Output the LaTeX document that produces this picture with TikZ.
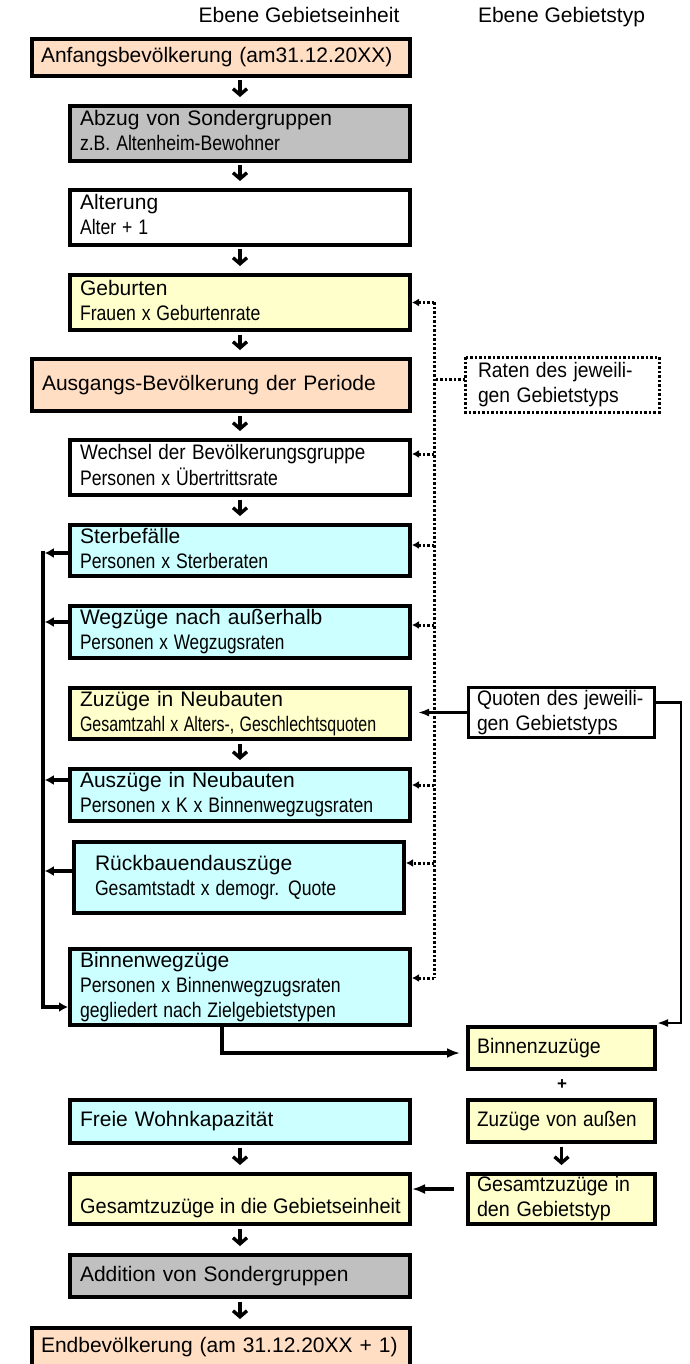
\documentclass[tikz,border=0pt]{standalone}
\usepackage{fontspec}
\setmainfont{Liberation Sans}
\usepackage{graphicx}
\usetikzlibrary{arrows.meta}
\definecolor{peach}{RGB}{255,222,196}
\definecolor{lyellow}{RGB}{255,255,204}
\definecolor{lcyan}{RGB}{204,255,255}
\definecolor{lgray}{RGB}{192,192,192}
\newcommand{\nar}[2]{\scalebox{#1}[1]{#2}}
\newcommand{\subl}[1]{\scalebox{0.84}[1]{#1}}
\begin{document}
\begin{tikzpicture}[x=1pt,y=-1pt,
  every node/.style={font=\fontsize{21}{25}\selectfont},
  box/.style={draw, line width=4pt, rectangle, anchor=north west, align=left,
    inner ysep=0pt, inner xsep=10pt, text width=320pt, minimum width=340pt,
    execute at begin node=\strut, execute at end node=\strut},
  widebox/.style={box, inner xsep=9pt, text width=360pt, minimum width=378pt},
  rbox/.style={box, inner xsep=9pt, text width=169pt, minimum width=187pt},
  varrow/.style={line width=3.4pt, -{Straight Barb[length=6pt,width=14pt]}, shorten <=2.5pt, shorten >=7pt},
  larrow/.style={line width=3.5pt, -{Latex[length=9pt,width=10pt]}},
  thkarrow/.style={line width=3.5pt, -{Latex[length=13pt,width=10pt]}},
  medarrow/.style={line width=2.5pt, -{Latex[length=11pt,width=8pt]}},
  dotline/.style={line width=3pt, dash pattern=on 2.5pt off 2pt},
  dotarrow/.style={dotline, -{Latex[length=7pt,width=8pt]}}
]
\useasboundingbox (0,0) rectangle (690,1364);

% headers
\node[anchor=base] (h1) at (299,23) {Ebene Gebietseinheit};
\node[anchor=base] (h2) at (561.5,23) {Ebene Gebietstyp};

% main column
\node[widebox, fill=peach, minimum height=37pt] (anf) at (30,37) {Anfangsbevölkerung (am31.12.20XX)};
\node[box, fill=lgray, minimum height=55pt] (abz) at (68,104) {Abzug von Sondergruppen\\\subl{z.B. Altenheim-Bewohner}};
\node[box, fill=white, minimum height=55pt] (alt) at (68,188) {Alterung\\\subl{Alter + 1}};
\node[box, fill=lyellow, minimum height=55pt] (geb) at (68,273) {Geburten\\\subl{Frauen x Geburtenrate}};
\node[widebox, inner xsep=10pt, text width=358pt, fill=peach, minimum height=52pt] (aus) at (30,357) {Ausgangs-Bevölkerung der Periode};
\node[box, fill=white, minimum height=55pt] (wech) at (68,438) {\nar{0.90}{Wechsel der Bevölkerungsgruppe}\\\subl{Personen x Übertrittsrate}};
\node[box, fill=lcyan, minimum height=51pt] (ster) at (68,523) {Sterbefälle\\\subl{Personen x Sterberaten}};
\node[box, fill=lcyan, minimum height=52pt] (weg) at (68,604) {Wegzüge nach außerhalb\\\nar{0.82}{Personen x Wegzugsraten}};
\node[box, fill=lyellow, minimum height=51pt] (zuz) at (68,686) {Zuzüge in Neubauten\\\nar{0.76}{Gesamtzahl x Alters-, Geschlechtsquoten}};
\node[box, fill=lcyan, minimum height=52pt] (ausz) at (68,767) {Auszüge in Neubauten\\\subl{Personen x K x Binnenwegzugsraten}};
\node[box, fill=lcyan, minimum height=71pt, inner xsep=21pt, text width=288pt, minimum width=330pt] (rueck) at (72,840) {Rückbauendauszüge\\\subl{Gesamtstadt x demogr. Quote}};
\node[box, fill=lcyan, minimum height=76pt] (binw) at (68,947) {Binnenwegzüge\\\subl{Personen x Binnenwegzugsraten}\\\subl{gegliedert nach Zielgebietstypen}};
\node[box, fill=lcyan, minimum height=43pt] (frei) at (68,1098) {Freie Wohnkapazität};
\node[box, fill=lyellow, minimum height=50pt, execute at begin node={}, execute at end node={}] (gesdie) at (68,1172) {};
\node[anchor=base west, inner sep=0pt] (gesdietxt) at (80,1213) {\nar{0.95}{Gesamtzuzüge in die Gebietseinheit}};
\node[box, fill=lgray, minimum height=42pt] (add) at (68,1253) {Addition von Sondergruppen};
\node[widebox, fill=peach, minimum height=38pt] (end) at (30,1326) {Endbevölkerung (am 31.12.20XX + 1)};

% right column
\node[rbox, draw=none, fill=white, minimum height=51pt, inner xsep=11pt, text width=168pt, minimum width=190pt] (raten) at (465,357) {\nar{0.92}{Raten des jeweili-}\\\nar{0.92}{gen Gebietstyps}};
\draw[dotline] (raten.north west) rectangle (raten.south east);
\node[rbox, line width=3pt, fill=white, minimum height=50pt, inner xsep=8.5pt, minimum width=186pt] (quoten) at (467,686) {\nar{0.92}{Quoten des jeweili-}\\\nar{0.92}{gen Gebietstyps}};
\node[rbox, fill=lyellow, minimum height=42pt] (binz) at (466,1025) {\nar{0.93}{Binnenzuzüge}};
\node[font=\fontsize{17}{17}\selectfont\bfseries, inner sep=0pt] (plus) at (562,1085) {+};
\node[rbox, fill=lyellow, minimum height=42pt] (zva) at (466,1098) {\nar{0.90}{Zuzüge von außen}};
\node[rbox, fill=lyellow, minimum height=50pt] (gesden) at (466,1172) {\nar{0.93}{Gesamtzuzüge in}\\\nar{0.94}{den Gebietstyp}};

% vertical flow arrows
\draw[varrow] (abz.north |- anf.south) -- (abz.north);
\draw[varrow] (abz.south) -- (alt.north);
\draw[varrow] (alt.south) -- (geb.north);
\draw[varrow] (geb.south) -- (geb.south |- aus.north);
\draw[varrow] (wech.north |- aus.south) -- (wech.north);
\draw[varrow] (wech.south) -- (ster.north);
\draw[varrow] (zuz.south) -- (ausz.north);
\draw[varrow] (frei.south) -- (gesdie.north);
\draw[varrow] (gesdie.south) -- (add.north);
\draw[varrow] (add.south) -- (add.south |- end.north);
\draw[varrow] (zva.south) -- (gesden.north);

% left collector line
\coordinate (ltop) at (43,553);
\coordinate (lbot) at (43,1007);
\coordinate (sterL) at ([yshift=-2.5pt]ster.west);
\coordinate (wegL) at ([yshift=10pt]weg.west);
\coordinate (auszL) at ([yshift=15pt]ausz.west);
\coordinate (rueckL) at ([yshift=6.5pt]rueck.west);
\coordinate (binwL) at ([yshift=-20pt]binw.west);
\draw[larrow, line join=miter] ([yshift=1.75pt]ltop) -- (lbot) -- (binwL);
\draw[larrow, shorten >=1.75pt] (sterL) -- (sterL -| ltop);
\draw[larrow, shorten >=1.75pt] (wegL) -- (wegL -| ltop);
\draw[larrow, shorten >=1.75pt] (auszL) -- (auszL -| ltop);
\draw[larrow, shorten >=1.75pt] (rueckL) -- (rueckL -| ltop);

% dotted rate connectors
\coordinate (dtop) at (434,302);
\coordinate (dbot) at (434,978);
\coordinate (gebR) at (geb.east);
\coordinate (wechR) at ([yshift=13.5pt]wech.east);
\coordinate (sterR) at ([yshift=5.5pt]ster.east);
\coordinate (wegR) at ([yshift=7pt]weg.east);
\coordinate (auszR) at ([yshift=10pt]ausz.east);
\coordinate (rueckR) at ([yshift=14.5pt]rueck.east);
\coordinate (binwR) at ([yshift=9pt]binw.east);
\coordinate (ratenL) at ([yshift=5.5pt]raten.west);
\draw[dotline] (dtop) -- (dbot);
\draw[dotline] (ratenL) -- (ratenL -| dtop);
\draw[dotarrow] (gebR -| dtop) -- (gebR);
\draw[dotarrow] (wechR -| dtop) -- (wechR);
\draw[dotarrow] (sterR -| dtop) -- (sterR);
\draw[dotarrow] (wegR -| dtop) -- (wegR);
\draw[dotarrow] (auszR -| dtop) -- (auszR);
\draw[dotarrow] (rueckR -| dtop) -- (rueckR);
\draw[dotarrow] (binwR -| dtop) -- (binwR);

% quoten connectors
\draw[medarrow, shorten >=6pt] (quoten.west) -- (quoten.west -| zuz.east);
\coordinate (quotenR) at ([yshift=10pt]quoten.east);
\coordinate (binzNE) at ([yshift=2pt]binz.north east);
\draw[medarrow] (quotenR) -- ++(25,0) |- (binzNE);

% Binnenwegzuege -> Binnenzuzuege
\coordinate (binwS) at ([xshift=-18pt]binw.south);
\coordinate (binzW) at ([yshift=-5pt]binz.west);
\draw[thkarrow, shorten >=6pt] (binwS) |- (binzW);

% Gesamtzuzuege Gebietstyp -> Gebietseinheit
\coordinate (gesdenW) at ([yshift=10pt]gesden.west);
\draw[thkarrow, shorten <=12pt] (gesdenW) -- (gesdenW -| gesdie.east);
\end{tikzpicture}
\end{document}
